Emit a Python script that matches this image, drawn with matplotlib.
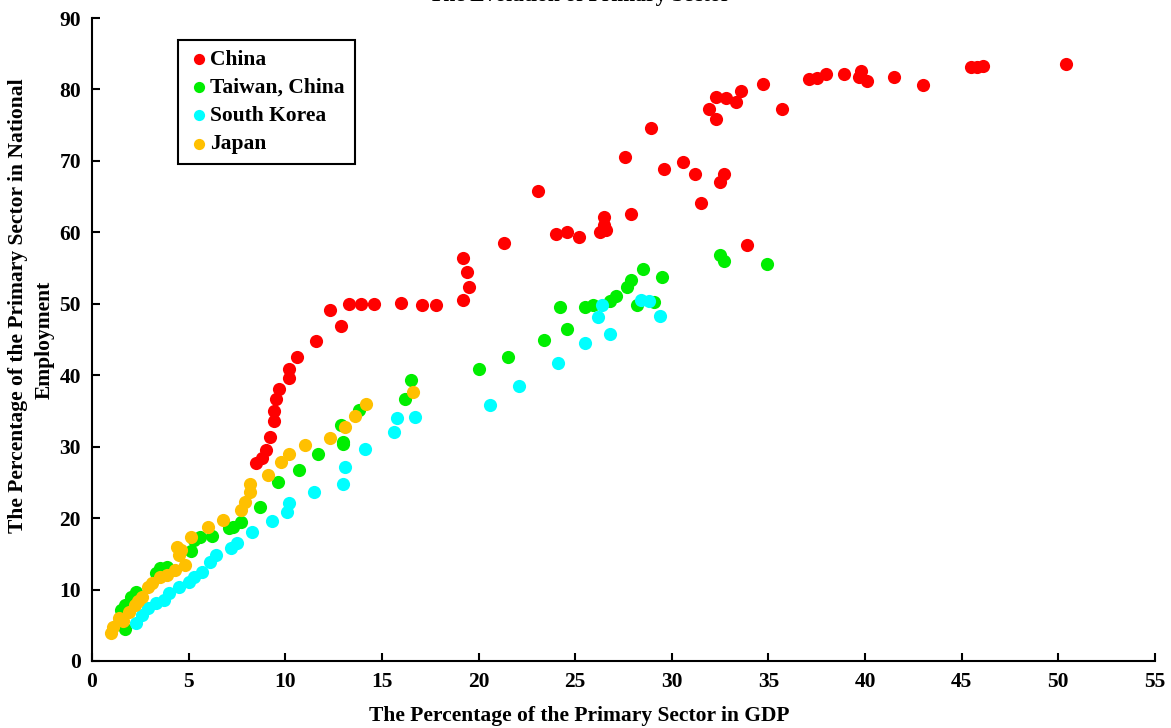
import matplotlib
matplotlib.use("Agg")
import matplotlib.pyplot as plt

# China
china_x = [50.4, 45.5, 45.8, 46.1, 43.0, 41.5, 40.1, 39.8, 39.7, 38.9, 38.0, 37.5, 37.1,
           35.7, 34.7, 33.6, 33.3, 32.8, 32.3, 32.3, 31.9, 28.9, 27.6, 29.6, 30.6, 31.2,
           32.7, 32.5, 31.5, 27.9, 26.5, 26.5, 26.6, 26.3, 24.0, 24.6, 25.2, 33.9, 23.1,
           21.3, 19.2, 19.4, 19.5, 19.2, 17.8, 17.1, 16.0, 14.6, 13.9, 13.3, 12.3, 12.9,
           11.6, 10.6, 10.2, 10.2, 9.7, 9.5, 9.4, 9.4, 9.2, 9.0, 8.8, 8.5]
china_y = [83.5, 83.2, 83.2, 83.3, 80.6, 81.7, 81.2, 82.6, 81.8, 82.1, 82.2, 81.6, 81.5,
           77.2, 80.8, 79.8, 78.2, 78.8, 78.9, 75.8, 77.2, 74.6, 70.5, 68.8, 69.8, 68.1,
           68.2, 67.0, 64.1, 62.5, 62.2, 61.0, 60.3, 60.0, 59.7, 60.0, 59.3, 58.2, 65.8,
           58.5, 56.4, 54.4, 52.3, 50.5, 49.8, 49.8, 50.1, 50.0, 50.0, 50.0, 49.1, 46.9,
           44.8, 42.6, 40.9, 39.6, 38.1, 36.7, 35.0, 33.6, 31.4, 29.5, 28.4, 27.7]

# Taiwan, China
taiwan_x = [34.9, 32.5, 32.7, 29.5, 28.5, 27.9, 27.7, 27.1, 26.8, 28.2, 29.1, 25.9, 25.5,
            24.2, 24.6, 23.4, 21.5, 20.0, 16.5, 16.2, 13.8, 12.9, 13.0, 13.0, 11.7, 10.7,
            9.6, 8.7, 7.7, 7.3, 7.1, 6.2, 5.6, 5.3, 5.1, 3.5, 3.3, 3.9, 2.3, 2.0, 1.7,
            1.5, 1.4, 1.7]
taiwan_y = [55.6, 56.8, 56.0, 53.7, 54.8, 53.3, 52.3, 51.1, 50.4, 49.8, 50.2, 49.8, 49.5,
            49.5, 46.4, 45.0, 42.6, 40.9, 39.3, 36.7, 35.1, 33.0, 30.7, 30.4, 29.0, 26.7,
            25.0, 21.5, 19.5, 18.7, 18.6, 17.5, 17.4, 17.0, 15.4, 13.0, 12.3, 13.2, 9.7,
            9.0, 7.8, 7.1, 5.3, 4.5]

# South Korea
korea_x = [29.4, 28.8, 28.4, 26.4, 26.2, 26.8, 25.5, 24.1, 22.1, 20.6, 16.7, 15.8, 15.6,
           14.1, 13.1, 13.0, 11.5, 10.2, 10.1, 9.3, 8.3, 7.5, 7.2, 6.4, 6.1, 5.7, 5.3,
           5.0, 4.5, 4.0, 3.7, 3.3, 2.9, 2.6, 2.3]
korea_y = [48.3, 50.4, 50.5, 49.8, 48.1, 45.7, 44.5, 41.7, 38.5, 35.8, 34.2, 34.0, 32.1,
           29.7, 27.2, 24.8, 23.6, 22.1, 20.8, 19.6, 18.0, 16.5, 15.8, 14.8, 13.8, 12.5,
           11.8, 11.1, 10.4, 9.5, 8.5, 8.1, 7.4, 6.4, 5.3]

# Japan
japan_x = [16.6, 14.2, 13.6, 13.1, 12.3, 11.0, 10.2, 9.8, 9.1, 8.2, 8.2, 7.9, 7.7, 6.8,
           6.0, 5.1, 4.6, 4.4, 4.5, 4.8, 4.3, 3.9, 3.5, 3.1, 2.9, 2.6, 2.4, 2.2, 1.9,
           1.6, 1.4, 1.1, 1.0]
japan_y = [37.6, 36.0, 34.3, 32.8, 31.2, 30.2, 29.0, 27.8, 26.0, 24.8, 23.6, 22.3, 21.1,
           19.8, 18.8, 17.4, 15.5, 16.0, 14.8, 13.4, 12.7, 12.0, 11.8, 10.9, 10.4, 9.0,
           8.4, 7.8, 6.9, 5.6, 6.0, 4.8, 3.9]

series = [
    ("China", china_x, china_y, "#FF0000"),
    ("Taiwan, China", taiwan_x, taiwan_y, "#00EE00"),
    ("South Korea", korea_x, korea_y, "#00FFFF"),
    ("Japan", japan_x, japan_y, "#FFC000"),
]

plt.rcParams["font.family"] = ["Liberation Serif", "DejaVu Serif"]
plt.rcParams["font.weight"] = "bold"
fs = 15.5

fig = plt.figure(figsize=(11.71, 7.28), dpi=100)
ax = fig.add_axes([92 / 1171, 1 - 661 / 728, (1155 - 92) / 1171, (661 - 18) / 728])

for name, xs, ys, color in series:
    ax.scatter(xs, ys, s=90, color=color, linewidths=0, label=name, zorder=3)

ax.set_xlim(0, 55)
ax.set_ylim(0, 90)
ax.set_xticks(range(0, 56, 5))
ax.set_yticks(range(0, 91, 10))
ax.tick_params(direction="in", length=6, width=1.5, labelsize=fs, pad=8)
for lbl in ax.get_xticklabels() + ax.get_yticklabels():
    lbl.set_fontweight("bold")
ax.spines["top"].set_visible(False)
ax.spines["right"].set_visible(False)
ax.spines["left"].set_linewidth(1.5)
ax.spines["bottom"].set_linewidth(1.5)

leg = ax.legend(loc="upper left", bbox_to_anchor=(0.081, 0.966), borderaxespad=0,
                fancybox=False, edgecolor="black", framealpha=1,
                prop={"weight": "bold", "size": fs}, handletextpad=0.05,
                labelspacing=0.38, markerscale=0.85, borderpad=0.45,
                handlelength=1.0)
leg.get_frame().set_linewidth(1.5)

fig.text(0.495, 0.998, "The Evolution of Primary Sector", ha="center", va="baseline",
         fontsize=fs, fontweight="bold")
fig.text(0.495, 1 - 716 / 728, "The Percentage of the Primary Sector in GDP",
         ha="center", va="center", fontsize=fs, fontweight="bold")
# y axis title, wrapped over two lines like the original
fig.text(18 / 1171, 1 - 306 / 728, "The Percentage of the Primary Sector in National",
         ha="center", va="center", rotation=90, fontsize=fs, fontweight="bold")
fig.text(45 / 1171, 1 - 340 / 728, "Employment",
         ha="center", va="center", rotation=90, fontsize=fs, fontweight="bold")

fig.savefig("out.png", dpi=100)
